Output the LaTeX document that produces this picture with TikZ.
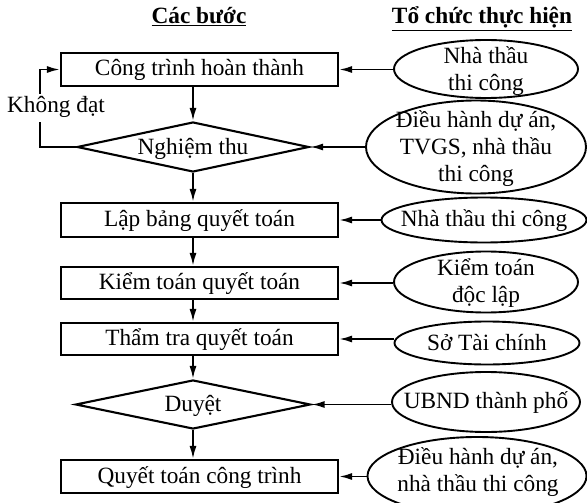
\documentclass[tikz,border=0pt]{standalone}
\usepackage{fontspec}
\setmainfont{Liberation Serif}
\usetikzlibrary{shapes.geometric,arrows.meta}
\begin{document}
\begin{tikzpicture}[x=1pt,y=-1pt,
  every node/.style={font=\fontsize{23.3}{27}\selectfont},
  stepbox/.style={draw,line width=2.1pt,minimum width=277pt,minimum height=33pt,inner sep=0pt,text height=17pt,text depth=4pt},
  decide/.style={draw,diamond,line width=2.1pt,aspect=4.6,inner sep=0pt,text height=16pt,text depth=2pt},
  org/.style={draw,ellipse,line width=1.9pt,inner sep=0pt},
  lbl/.style={align=center,inner sep=0pt},
  arr/.style={line width=1.9pt,-{Latex[length=13pt,width=7pt]}},
  head/.style={font=\bfseries\fontsize{23.3}{27}\selectfont,inner sep=0pt,text height=17pt,text depth=4pt}]
\useasboundingbox (0,0) rectangle (587,503);

% headers
\node[head] (h1) at (199,17.5) {\underline{Các bước}};
\node[head] (h2) at (482,17.5) {\underline{Tổ chức thực hiện}};

% steps
\node[stepbox] (b1) at (199.5,69.5) {Công trình hoàn thành};
\node[decide,minimum width=232pt,minimum height=50pt] (d1) at (193,147) {Nghiệm thu};
\node[stepbox,minimum height=34pt] (b2) at (199.5,220) {Lập bảng quyết toán};
\node[stepbox,minimum height=32pt] (b3) at (199.5,283) {Kiểm toán quyết toán};
\node[stepbox,minimum height=32pt] (b4) at (199.5,339) {Thẩm tra quyết toán};
\node[decide,minimum width=235pt,minimum height=49pt] (d2) at (193,404.5) {Duyệt};
\node[stepbox] (b5) at (199.5,476.5) {Quyết toán công trình};

% organisations
\node[org,minimum width=184pt,minimum height=58pt] (e1) at (486,69) {};
\node[lbl] (t1) at (486,71) {Nhà thầu\\thi công};
\node[org,minimum width=220pt,minimum height=93pt] (e2) at (476,147) {};
\node[lbl] (t2) at (476,149) {Điều hành dự án,\\TVGS, nhà thầu\\thi công};
\node[org,minimum width=205pt,minimum height=45pt] (e3) at (484,220) {};
\node[lbl] (t3) at (484,221) {Nhà thầu thi công};
\node[org,minimum width=184pt,minimum height=61pt] (e4) at (486,282) {};
\node[lbl] (t4) at (486,283) {Kiểm toán\\độc lập};
\node[org,minimum width=185pt,minimum height=43pt] (e5) at (487,343) {};
\node[lbl] (t5) at (487,343) {Sở Tài chính};
\node[org,minimum width=188pt,minimum height=60pt] (e6) at (486,402) {};
\node[lbl] (t6) at (486,403) {UBND thành phố};
\node[org,minimum width=219pt,minimum height=78pt] (e7) at (477,476) {};
\node[lbl] (t7) at (478,472) {Điều hành dự án,\\nhà thầu thi công};

% vertical flow
\draw[arr] (b1.south -| d1.north) -- (d1.north);
\draw[arr] (d1.south) -- (b2.north -| d1.south);
\draw[arr] (b2.south -| d1.south) -- (b3.north -| d1.south);
\draw[arr] (b3.south -| d1.south) -- (b4.north -| d1.south);
\draw[arr] (b4.south -| d2.north) -- (d2.north);
\draw[arr] (d2.south) -- (b5.north -| d2.south);

% feedback loop
\coordinate (lp) at (40,100);
\draw[arr] (d1.west) -- (d1.west -| lp) -- (b1.west -| lp) -- (b1.west);
\node[fill=white,inner xsep=1pt,inner ysep=3pt,text height=16pt,text depth=6pt] (nd) at (56,108) {Không đạt};

% organisation arrows
\draw[arr] (e1.west |- b1.east) -- (b1.east);
\draw[arr] (e2.west |- d1.east) -- (d1.east);
\draw[arr] (e3.west |- b2.east) -- (b2.east);
\draw[arr] (e4.west |- b3.east) -- (b3.east);
\draw[arr] (e5.west |- b4.east) -- (b4.east);
\draw[arr] (e6.west |- d2.east) -- (d2.east);
\draw[arr] (e7.west |- b5.east) -- (b5.east);
\end{tikzpicture}
\end{document}
